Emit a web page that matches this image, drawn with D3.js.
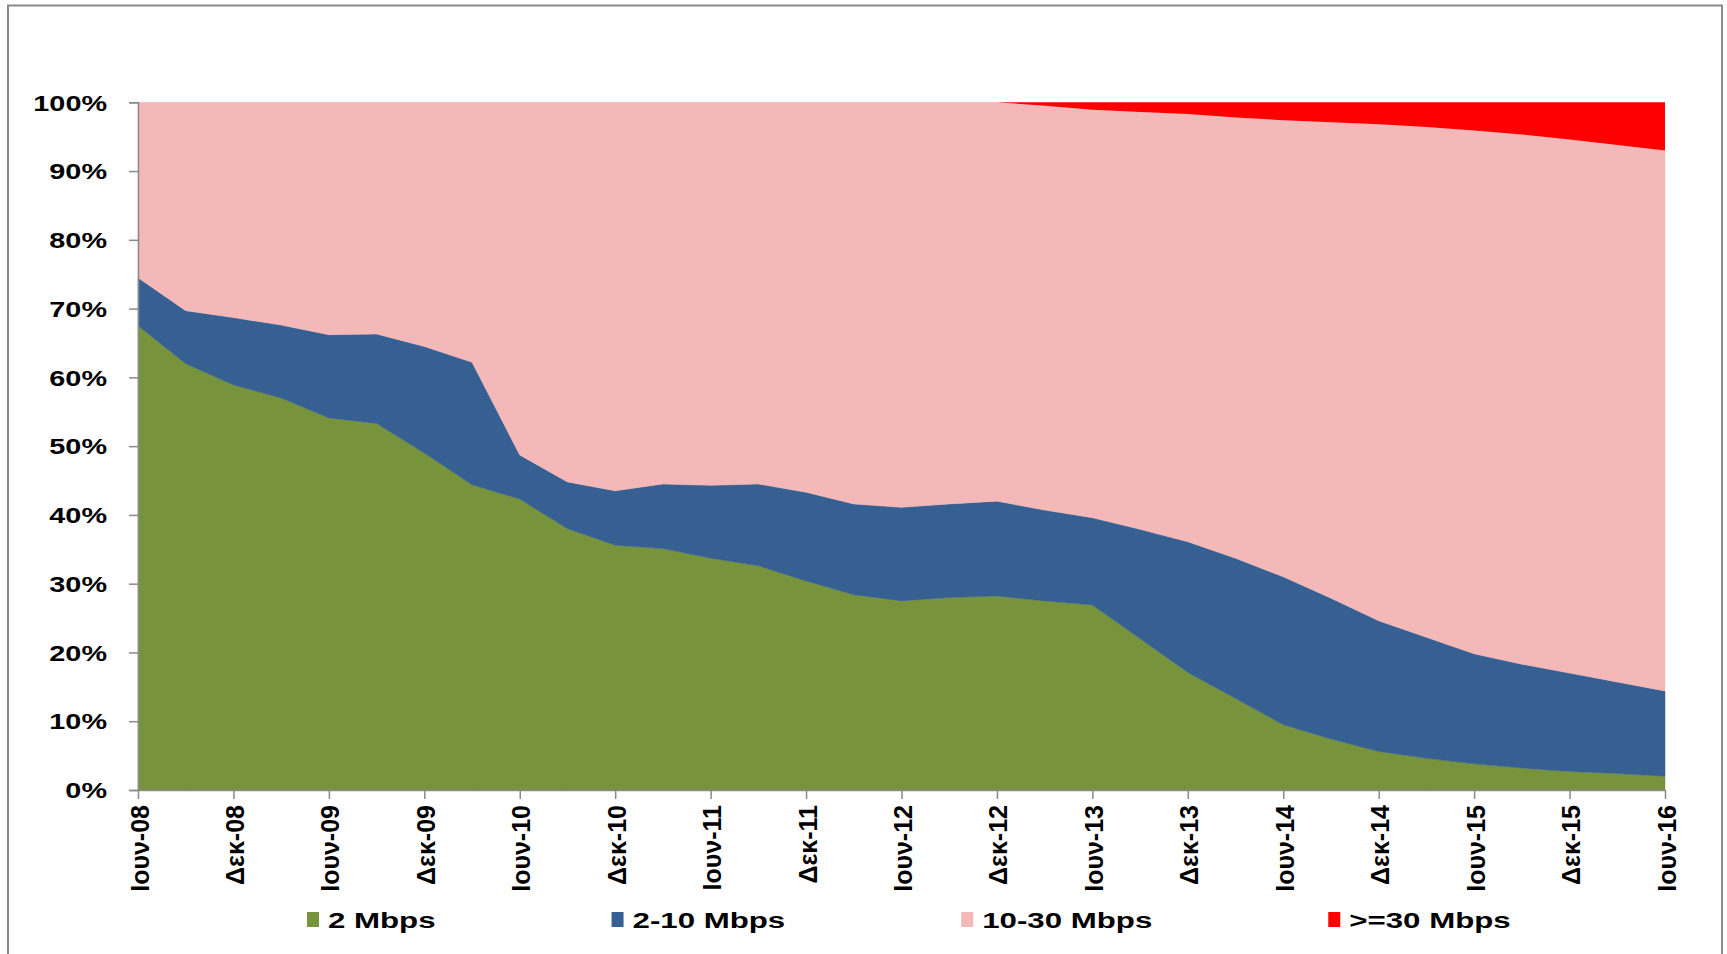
<!DOCTYPE html>
<html><head><meta charset="utf-8">
<script src="https://cdn.jsdelivr.net/npm/d3@7"></script>
<style>
html,body{margin:0;padding:0;background:#fff;}
svg{display:block;font-family:"Liberation Sans",Arial,sans-serif;}
</style></head>
<body>
<svg id="chart" width="1727" height="954"></svg>
<script>
const categories = ["Ιουν-08","Σεπ-08","Δεκ-08","Μαρ-09","Ιουν-09","Σεπ-09","Δεκ-09","Μαρ-10",
  "Ιουν-10","Σεπ-10","Δεκ-10","Μαρ-11","Ιουν-11","Σεπ-11","Δεκ-11","Μαρ-12",
  "Ιουν-12","Σεπ-12","Δεκ-12","Μαρ-13","Ιουν-13","Σεπ-13","Δεκ-13","Μαρ-14",
  "Ιουν-14","Σεπ-14","Δεκ-14","Μαρ-15","Ιουν-15","Σεπ-15","Δεκ-15","Μαρ-16","Ιουν-16"];
const tickLabels = ["Ιουν-08","Δεκ-08","Ιουν-09","Δεκ-09","Ιουν-10","Δεκ-10","Ιουν-11","Δεκ-11",
  "Ιουν-12","Δεκ-12","Ιουν-13","Δεκ-13","Ιουν-14","Δεκ-14","Ιουν-15","Δεκ-15","Ιουν-16"];
const seriesNames = ["2 Mbps","2-10 Mbps","10-30 Mbps",">=30 Mbps"];
const s2 = [67.5,62.0,58.9,57.0,54.1,53.3,49.0,44.4,42.3,38.0,35.6,35.1,33.7,32.6,30.4,28.4,27.5,28.0,28.2,27.5,26.9,22.0,17.1,13.3,9.5,7.4,5.6,4.6,3.8,3.2,2.7,2.4,2.0];
const s2to10 = [7.0,7.7,9.8,10.6,12.1,13.0,15.5,17.8,6.4,6.8,7.9,9.4,10.6,11.9,12.9,13.2,13.6,13.6,13.8,13.2,12.7,15.9,19.0,20.4,21.5,20.5,19.0,17.6,16.0,15.1,14.3,13.3,12.4];
const s10to30 = [25.5,30.3,31.3,32.4,33.8,33.7,35.5,37.8,51.3,55.2,56.5,55.5,55.7,55.5,56.7,58.4,58.9,58.4,58.0,58.8,59.3,60.7,62.2,64.1,66.4,69.2,72.2,74.2,76.1,77.0,77.6,78.1,78.6];
const s30 = [0,0,0,0,0,0,0,0,0,0,0,0,0,0,0,0,0,0,0,0.5,1.1,1.4,1.7,2.2,2.6,2.9,3.2,3.6,4.1,4.7,5.4,6.2,7.0];
const yTicks = [0,10,20,30,40,50,60,70,80,90,100];
const colors = ["#77933C","#376092","#F4B8B9","#FF0000"];

const svg = d3.select("#chart");
// outer frame
svg.append("rect").attr("x",8).attr("y",5.5).attr("width",1714).attr("height",960)
  .attr("fill","none").attr("stroke","#8a8a8a").attr("stroke-width",2);

const x = d3.scalePoint().domain(categories).range([138,1665]);
const y = d3.scaleLinear().domain([0,100]).range([790,102.3]);

const table = categories.map((c,i)=>({cat:c, a:s2[i], b:s2to10[i], c2:s10to30[i], d:s30[i]}));
const keys = ["a","b","c2","d"];
const stacked = d3.stack().keys(keys)(table);
const area = d3.area().x(d=>x(d.data.cat)).y0(d=>y(d[0])).y1(d=>y(d[1]));

svg.append("g").selectAll("path").data(stacked).join("path")
  .attr("d",area).attr("fill",(d,i)=>colors[i])
  .attr("stroke",(d,i)=> i<3 ? colors[i] : "none").attr("stroke-width",0.5);

// y axis
const yAxis = svg.append("g").attr("transform","translate(138,0)")
  .call(d3.axisLeft(y).tickValues(yTicks).tickFormat(d=>d+"%").tickSize(9).tickPadding(0));
yAxis.select(".domain").attr("stroke","#8a8a8a").attr("stroke-width",1.5);
yAxis.selectAll(".tick line").attr("stroke","#8a8a8a").attr("stroke-width",1.5);
yAxis.selectAll(".tick text").attr("x",0).attr("dy","0.36em")
  .attr("transform","translate(-31,0) scale(1.34,1)")
  .style("font-size","21.5px").style("font-weight","bold").attr("fill","#000")
  .style("font-family","'Liberation Sans',Arial,sans-serif");

// x axis
const xAxis = svg.append("g").attr("transform","translate(0,790)")
  .call(d3.axisBottom(x).tickValues(tickLabels).tickSize(9).tickSizeOuter(0));
xAxis.select(".domain").attr("stroke","#8a8a8a").attr("stroke-width",1.5);
xAxis.selectAll(".tick line").attr("stroke","#8a8a8a").attr("stroke-width",1.5);
xAxis.selectAll(".tick text")
  .attr("y",0).attr("x",0).attr("dy","0.36em")
  .attr("text-anchor","end")
  .attr("transform","translate(1,15) rotate(-90)")
  .style("font-size","25px").style("font-weight","bold").attr("fill","#000")
  .style("font-family","'Liberation Sans',Arial,sans-serif");

// legend
const legend = svg.append("g");
let lx = 307;
seriesNames.forEach((name,i)=>{
  legend.append("rect").attr("x",lx).attr("y",912).attr("width",12).attr("height",15).attr("fill",colors[i]);
  const t = legend.append("text").attr("x",0).attr("y",0)
    .attr("transform",`translate(${lx+21},928) scale(1.42,1)`)
    .style("font-size","22px").style("font-weight","bold").attr("fill","#000").text(name);
  const w = t.node().getComputedTextLength()*1.42;
  lx = lx + 21 + w + 176;
});
</script>
</body></html>
